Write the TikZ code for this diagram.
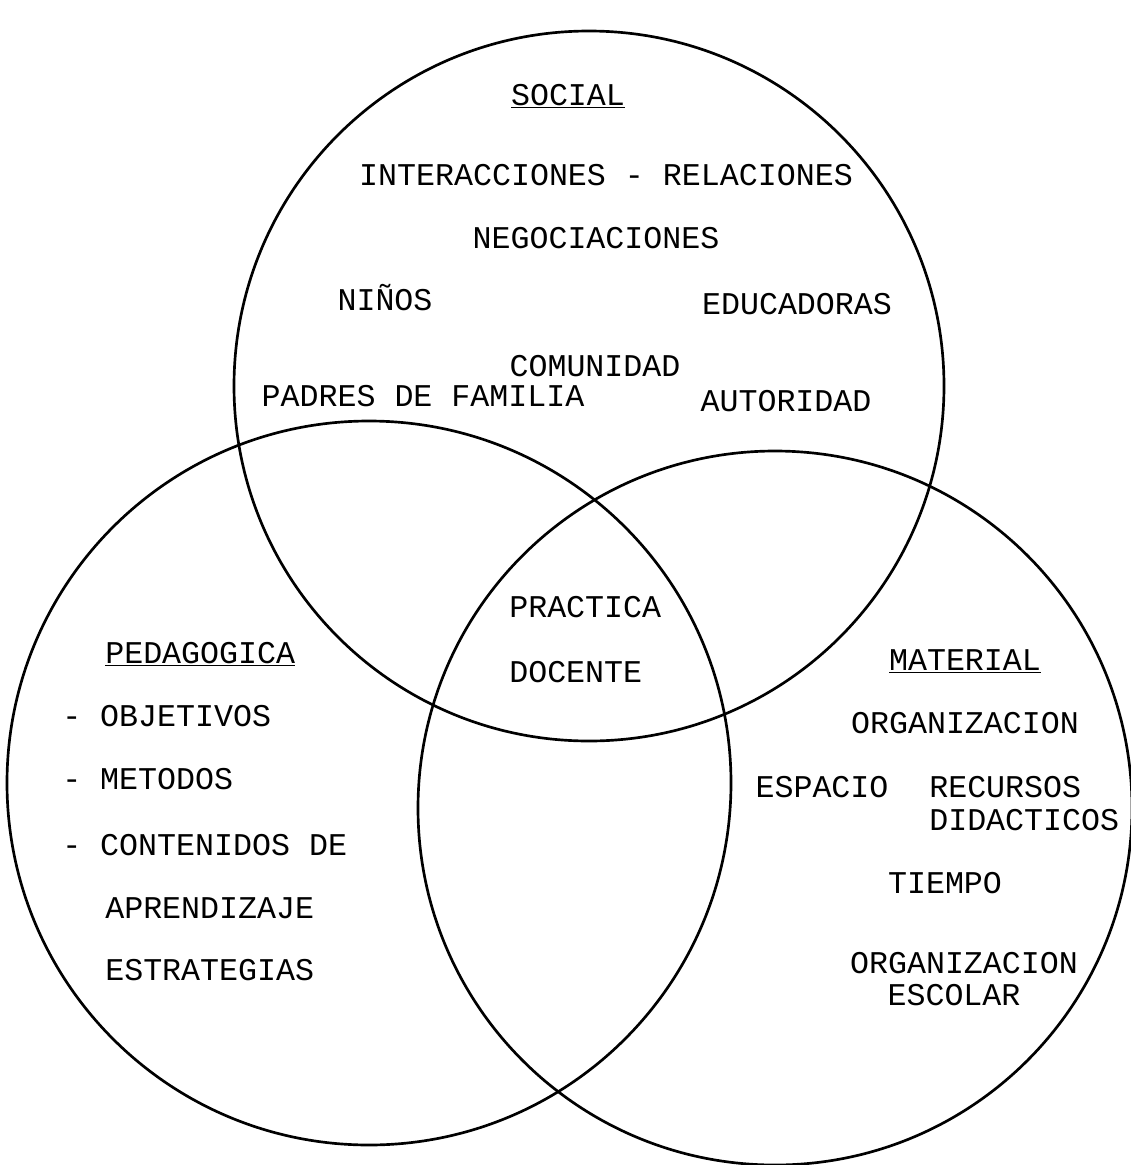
\documentclass[tikz,border=0pt]{standalone}
\usepackage{fontspec}
\setmonofont{Liberation Mono}
\begin{document}
\begin{tikzpicture}[x=0.025cm,y=-0.025cm,
    ring/.style={line width=1.9pt},
    word/.style={font=\ttfamily\fontsize{22.5}{24}\selectfont, inner sep=0pt, anchor=mid, yshift=-5pt},
    wordleft/.style={word, anchor=mid west}]
    \useasboundingbox (0,0) rectangle (1131,1165);
    % the three circles
    \draw[ring] (589,386) circle[radius=355];
    \draw[ring] (369,783) circle[radius=362];
    \draw[ring] (775,808) circle[radius=357];
    % social
    \node[word] (social) at (568,95) {\underline{SOCIAL}};
    \node[word] (interacciones) at (606,175) {INTERACCIONES - RELACIONES};
    \node[word] (negociaciones) at (596,238) {NEGOCIACIONES};
    \node[word] (ninos) at (385,300) {NIÑOS};
    \node[word] (educadoras) at (797,304) {EDUCADORAS};
    \node[word] (comunidad) at (595,366) {COMUNIDAD};
    \node[word] (padres) at (423,396) {PADRES DE FAMILIA};
    \node[word] (autoridad) at (786,401) {AUTORIDAD};
    % centre
    \node[wordleft] (practica) at (509,607) {PRACTICA};
    \node[wordleft] (docente) at (509,672) {DOCENTE};
    % pedagogica
    \node[wordleft] (pedagogica) at (105,653) {\underline{PEDAGOGICA}};
    \node[wordleft] (objetivos) at (62,716) {- OBJETIVOS};
    \node[wordleft] (metodos) at (62,779) {- METODOS};
    \node[wordleft] (contenidos) at (62,845) {- CONTENIDOS DE};
    \node[wordleft] (aprendizaje) at (105,908) {APRENDIZAJE};
    \node[wordleft] (estrategias) at (105,970) {ESTRATEGIAS};
    % material
    \node[word] (material) at (965,660) {\underline{MATERIAL}};
    \node[word] (organizacion) at (965,723) {ORGANIZACION};
    \node[word] (espacio) at (822,787) {ESPACIO};
    \node[wordleft] (recursos) at (929,787) {RECURSOS};
    \node[wordleft] (didacticos) at (929,820) {DIDACTICOS};
    \node[word] (tiempo) at (945,883) {TIEMPO};
    \node[word] (organizacion2) at (964,963) {ORGANIZACION};
    \node[word] (escolar) at (954,995) {ESCOLAR};
\end{tikzpicture}
\end{document}
